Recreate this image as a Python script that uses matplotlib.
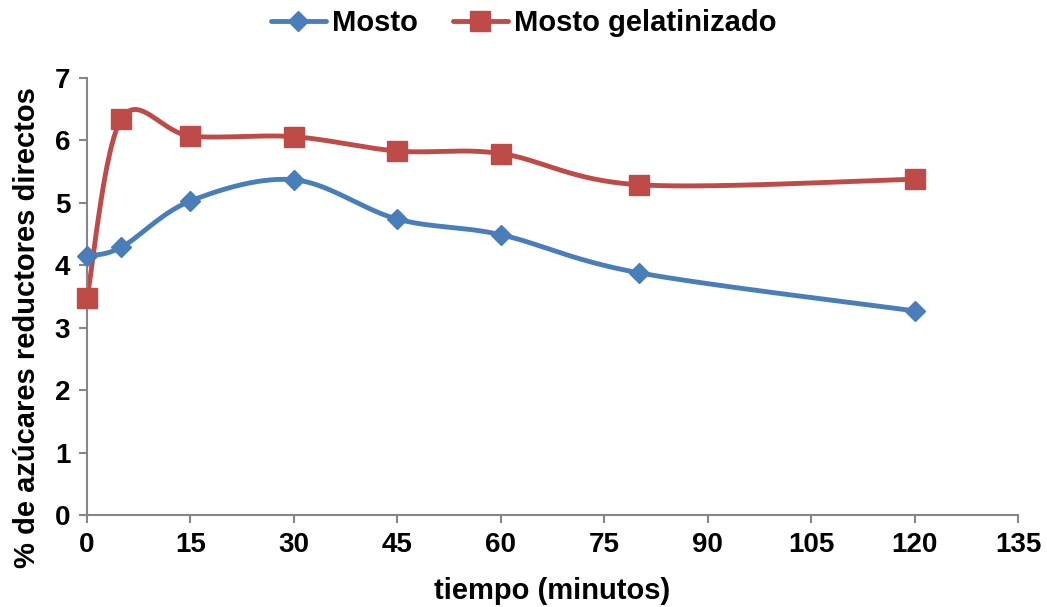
import numpy as np
import matplotlib
matplotlib.use("Agg")
import matplotlib.pyplot as plt
from matplotlib.lines import Line2D

tiempo = [0, 5, 15, 30, 45, 60, 80, 120]
mosto = [4.15, 4.29, 5.03, 5.37, 4.74, 4.49, 3.88, 3.27]
mosto_gel = [3.47, 6.35, 6.07, 6.06, 5.83, 5.79, 5.29, 5.38]
series_names = ["Mosto", "Mosto gelatinizado"]
xticks = [0, 15, 30, 45, 60, 75, 90, 105, 120, 135]
yticks = [0, 1, 2, 3, 4, 5, 6, 7]

plt.rcParams['font.family'] = ['Liberation Sans', 'DejaVu Sans']
plt.rcParams['font.weight'] = 'bold'

W, H = 1047, 607
fig = plt.figure(figsize=(W / 100, H / 100), dpi=100)
L, R, T, B = 87, 1018, 78, 515
ax = fig.add_axes([L / W, 1 - B / H, (R - L) / W, (B - T) / H])
ax.set_xlim(0, 135)
ax.set_ylim(0, 7)

sx = (R - L) / 135.0
sy = (B - T) / 7.0


def smooth(xs, ys, n=40):
    px = np.array(xs, float) * sx
    py = np.array(ys, float) * sy
    outx, outy = [], []
    m = len(px)
    for i in range(m - 1):
        p0 = np.array([px[i], py[i]])
        p3 = np.array([px[i + 1], py[i + 1]])
        prev = np.array([px[i - 1], py[i - 1]]) if i > 0 else p0
        nxt = np.array([px[i + 2], py[i + 2]]) if i + 2 < m else p3
        p1 = p0 + (p3 - prev) / 6.0
        p2 = p3 - (nxt - p0) / 6.0
        t = np.linspace(0, 1, n)[:, None]
        pts = ((1 - t) ** 3) * p0 + 3 * ((1 - t) ** 2) * t * p1 + 3 * (1 - t) * t ** 2 * p2 + t ** 3 * p3
        outx.extend(pts[:, 0] / sx)
        outy.extend(pts[:, 1] / sy)
    return outx, outy


blue = "#4A7EBB"
red = "#BE4B48"
LW = 3.5

x1, y1 = smooth(tiempo, mosto)
x2, y2 = smooth(tiempo, mosto_gel)
ax.plot(x1, y1, color=blue, lw=LW, solid_capstyle='round', zorder=2, clip_on=False)
ax.plot(tiempo, mosto, linestyle='none', marker='D', markersize=10.5, color=blue, zorder=3, clip_on=False)
ax.plot(x2, y2, color=red, lw=LW, solid_capstyle='round', zorder=2, clip_on=False)
ax.plot(tiempo, mosto_gel, linestyle='none', marker='s', markersize=14.5, color=red, zorder=3, clip_on=False)

for s in ['top', 'right']:
    ax.spines[s].set_visible(False)
for s in ['left', 'bottom']:
    ax.spines[s].set_color('#868686')
    ax.spines[s].set_linewidth(1.5)

ax.set_xticks(xticks)
ax.set_yticks(yticks)
ax.tick_params(direction='out', length=6, width=1.5, color='#868686', labelsize=20, pad=6)
for lab in ax.get_xticklabels() + ax.get_yticklabels():
    lab.set_fontweight('bold')

ax.set_xlabel("tiempo (minutos)", fontsize=21, fontweight='bold', labelpad=14)
ax.set_ylabel("% de azúcares reductores directos", fontsize=21, fontweight='bold')
ax.yaxis.set_label_coords(-0.049, 0.43)

handles = [Line2D([], [], color=blue, lw=LW, marker='D', markersize=10.5, solid_capstyle='round'),
           Line2D([], [], color=red, lw=LW, marker='s', markersize=14.5, solid_capstyle='round')]
fig.legend(handles, series_names, loc='center', bbox_to_anchor=(0.5, 1 - 23 / H), ncol=2,
           frameon=False, prop={'size': 21, 'weight': 'bold'}, handlelength=1.9,
           handletextpad=0.2, columnspacing=1.2)

fig.savefig("out.png", dpi=100)
